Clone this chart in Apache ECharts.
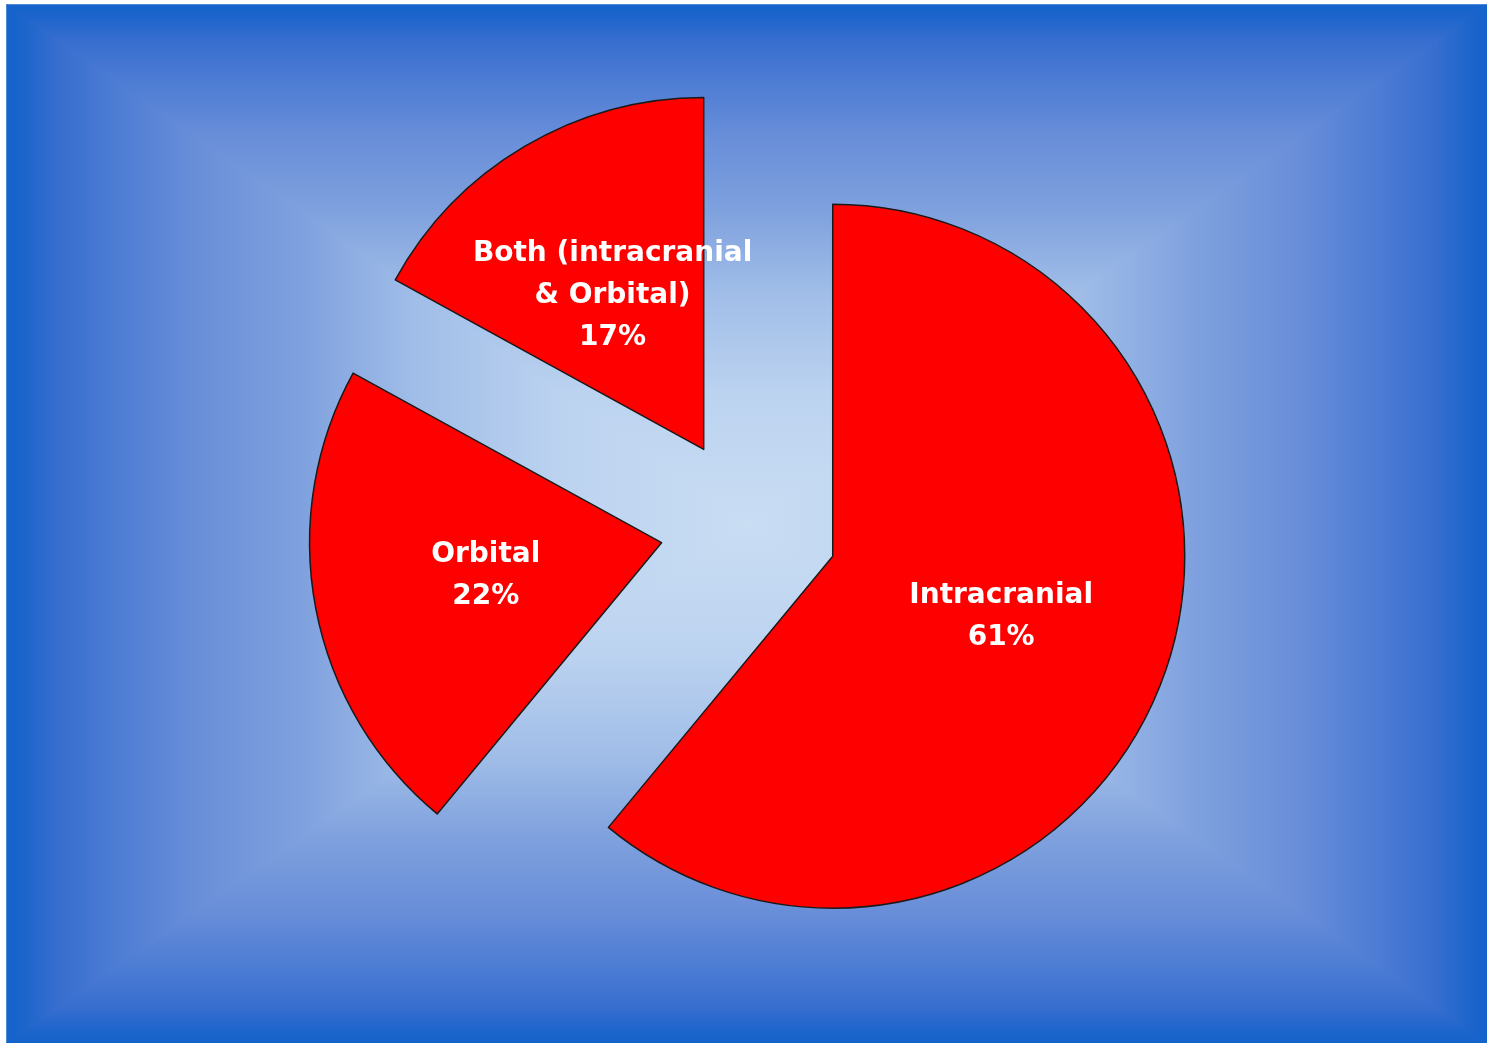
<!DOCTYPE html>
<html>
<head>
<meta charset="utf-8">
<script src="https://cdn.jsdelivr.net/npm/echarts@6/dist/echarts.min.js"></script>
<style>
html,body{margin:0;padding:0;background:#ffffff;}
#chart{width:1487px;height:1043px;}
</style>
</head>
<body>
<div id="chart"></div>
<script>
// Data
var categories = ['Intracranial', 'Orbital', 'Both (intracranial\n& Orbital)'];
var values = [61, 22, 17];

var bx0 = 7, by0 = 5, bx1 = 1487, by1 = 1043;
var cx = (bx0 + bx1) / 2, cy = (by0 + by1) / 2;

var stops = [
  {offset: 0, color: '#1463cc'},
  {offset: 0.02, color: '#1a64cb'},
  {offset: 0.07, color: '#376ecf'},
  {offset: 0.13, color: '#4879d3'},
  {offset: 0.26, color: '#6a8fd9'},
  {offset: 0.4, color: '#7fa1de'},
  {offset: 0.55, color: '#a0bde8'},
  {offset: 0.75, color: '#bcd3f0'},
  {offset: 1, color: '#c9ddf3'}
];
function grad(x, y, x2, y2) {
  return {type: 'linear', x: x, y: y, x2: x2, y2: y2, colorStops: stops};
}
function tri(points, g) {
  return {type: 'polygon', silent: true, z: -10,
    shape: {points: points},
    style: {fill: g, stroke: g, lineWidth: 1.5, lineJoin: 'round'}};
}

var chart = echarts.init(document.getElementById('chart'), null, {renderer: 'canvas'});

var data = categories.map(function (c, i) {
  return {name: c, value: values[i], selected: true};
});

var itemStyle = {color: '#ff0000', borderColor: '#1a1a1a', borderWidth: 1.5};

chart.setOption({
  animation: false,
  backgroundColor: '#ffffff',
  graphic: [
    tri([[bx0, by0], [bx1, by0], [cx, cy]], grad(0, 0, 0, 1)),
    tri([[bx0, by1], [bx1, by1], [cx, cy]], grad(0, 1, 0, 0)),
    tri([[bx0, by0], [bx0, by1], [cx, cy]], grad(0, 0, 1, 0)),
    tri([[bx1, by0], [bx1, by1], [cx, cy]], grad(1, 0, 0, 0))
  ],
  series: [{
    type: 'pie',
    center: [749, 526],
    radius: 352,
    startAngle: 90,
    clockwise: true,
    selectedMode: 'multiple',
    selectedOffset: 89,
    avoidLabelOverlap: false,
    silent: true,
    labelLine: {show: false},
    itemStyle: itemStyle,
    label: {
      show: true,
      position: 'inside',
      color: '#ffffff',
      fontFamily: 'DejaVu Sans',
      fontWeight: 'bold',
      fontSize: 28,
      lineHeight: 42,
      align: 'center',
      formatter: function (p) {
        return p.name + '\n' + Math.round(p.percent) + '%';
      }
    },
    emphasis: {disabled: true, scale: false},
    select: {itemStyle: itemStyle},
    data: data
  }]
});
</script>
</body>
</html>
